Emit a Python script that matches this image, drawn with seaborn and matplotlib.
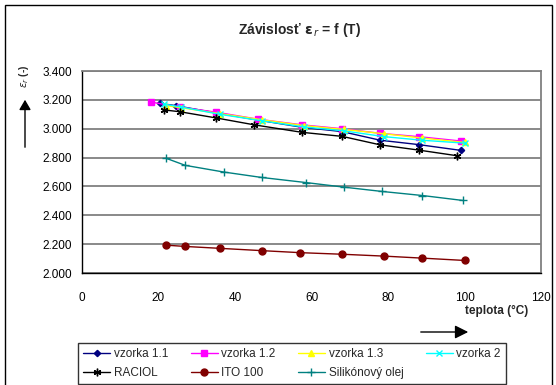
import matplotlib
matplotlib.use("Agg")
import matplotlib.pyplot as plt
import seaborn as sns
import pandas as pd
from matplotlib.patches import Rectangle
from matplotlib.lines import Line2D

sns.set_theme(style="white")
plt.rcParams['font.family'] = ['Liberation Sans', 'DejaVu Sans']

# ---- data ----
t_v11 = [20.5, 24.5, 35, 46, 57.5, 68, 78, 88, 99]
v11 = [3.175, 3.160, 3.110, 3.060, 3.010, 2.980, 2.920, 2.890, 2.850]
t_v12 = [18, 25.5, 35, 46, 57.5, 68, 78, 88, 99]
v12 = [3.185, 3.150, 3.115, 3.066, 3.027, 3.000, 2.968, 2.945, 2.915]
t_v13 = [22, 26, 36, 47, 58, 68.5, 79, 89, 100]
v13 = [3.160, 3.145, 3.105, 3.062, 3.022, 2.995, 2.965, 2.935, 2.905]
t_v2 = [21.5, 26, 36, 47, 58, 68.5, 79, 89, 100]
v2 = [3.170, 3.150, 3.100, 3.055, 3.012, 2.985, 2.945, 2.920, 2.900]
t_rac = [21.5, 25.5, 35, 45, 57.5, 68, 78, 88, 98]
rac = [3.130, 3.118, 3.075, 3.027, 2.975, 2.947, 2.888, 2.852, 2.813]
t_ito = [22, 27, 36, 47, 57, 68, 79, 89, 100]
ito = [2.193, 2.184, 2.171, 2.155, 2.141, 2.130, 2.117, 2.103, 2.087]
t_sil = [22, 27, 37, 47, 58.5, 68.5, 78.5, 89, 99.5]
sil = [2.795, 2.746, 2.700, 2.662, 2.627, 2.595, 2.565, 2.537, 2.503]

names = ["vzorka 1.1", "vzorka 1.2", "vzorka 1.3", "vzorka 2",
         "RACIOL", "ITO 100", "Silikónový olej"]
xs = [t_v11, t_v12, t_v13, t_v2, t_rac, t_ito, t_sil]
ys = [v11, v12, v13, v2, rac, ito, sil]
colors = ["#000080", "#FF00FF", "#FFFF00", "#00FFFF", "#000000", "#800000", "#008080"]
markers = ["D", "s", "^", "x", (6, 2, 0), "o", "+"]
msizes = [3.2, 5, 5, 5, 5.5, 5, 5.5]

W, H = 556, 385
fig = plt.figure(figsize=(W / 100, H / 100), dpi=100)
ax = fig.add_axes([82 / W, 1 - 273 / H, (541 - 82) / W, (273 - 71) / H])

for n, x, y, c, m, ms in zip(names, xs, ys, colors, markers, msizes):
    df = pd.DataFrame({"T": x, "v": y})
    sns.lineplot(data=df, x="T", y="v", ax=ax, color=c, marker=m,
                 markersize=ms, markeredgecolor=c, markeredgewidth=1.0,
                 linewidth=1.0, label=n, legend=False)

ax.set_xlim(0, 120)
ax.set_ylim(2.0, 3.4)
ax.set_xticks(range(0, 121, 20))
ax.set_yticks([2.0 + 0.2 * i for i in range(8)])
ax.set_yticklabels([f"{2.0 + 0.2 * i:.3f}" for i in range(8)])
ax.yaxis.grid(True, color="#808080", linewidth=1.3)
ax.xaxis.grid(False)
ax.set_xlabel("")
ax.set_ylabel("")
ax.tick_params(axis="both", labelsize=8.5, colors="black", length=4, width=0.8,
               direction="out", pad=3)
ax.tick_params(axis="x", length=0, pad=14)
for s in ["left", "bottom"]:
    ax.spines[s].set_color("black")
    ax.spines[s].set_linewidth(1.0)
for s in ["top", "right"]:
    ax.spines[s].set_color("#808080")
    ax.spines[s].set_linewidth(1.3)

# title
fig.text(300 / W, 1 - 30 / H, r"Závislosť $\mathbf{\varepsilon}_{\,r}$ = f (T)",
         ha="center", va="center", fontsize=10, fontweight="bold")

# y label with arrow
fig.text(24 / W, 1 - 76 / H, r"$\varepsilon_r$ (-)", rotation=90, ha="center",
         va="center", fontsize=7.5, fontweight="bold")
fig.add_artist(matplotlib.patches.FancyArrowPatch(
    (25 / W, 1 - 150 / H), (25 / W, 1 - 97 / H), transform=fig.transFigure,
    arrowstyle="-|>,head_length=6,head_width=3.5", color="black", linewidth=1.0))

# x label with arrow
fig.text(497 / W, 1 - 311 / H, "teplota (°C)", ha="center", va="center",
         fontsize=8.5, fontweight="bold")
fig.add_artist(matplotlib.patches.FancyArrowPatch(
    (418 / W, 1 - 332 / H), (471 / W, 1 - 332 / H), transform=fig.transFigure,
    arrowstyle="-|>,head_length=8,head_width=4", color="black", linewidth=1.0))

# outer chart border
fig.patches.append(Rectangle((5 / W, -0.05), (552 - 5) / W, 1 - 5 / H + 0.05,
                             transform=fig.transFigure, fill=False,
                             edgecolor="black", linewidth=1.0))

# legend (row-major order achieved by interleaving for column-major fill)
order = [0, 4, 1, 5, 2, 6, 3]
handles = [Line2D([0], [0], color=colors[i], marker=markers[i], markersize=msizes[i],
                  markeredgecolor=colors[i], markeredgewidth=1.0, linewidth=1.0)
           for i in order]
labels = [names[i] for i in order]
leg = fig.legend(handles, labels, ncol=4, loc="upper left",
                 bbox_to_anchor=(78 / W, 1 - 343 / H - 0.2, (506 - 78) / W, 0.2),
                 mode="expand", fontsize=8.5, frameon=True, fancybox=False,
                 edgecolor="black", handlelength=2.3, handletextpad=0.3,
                 borderpad=0.45, labelspacing=0.55, columnspacing=1.0,
                 borderaxespad=0)
leg.get_frame().set_linewidth(1.0)

fig.savefig("out.png", dpi=100)
